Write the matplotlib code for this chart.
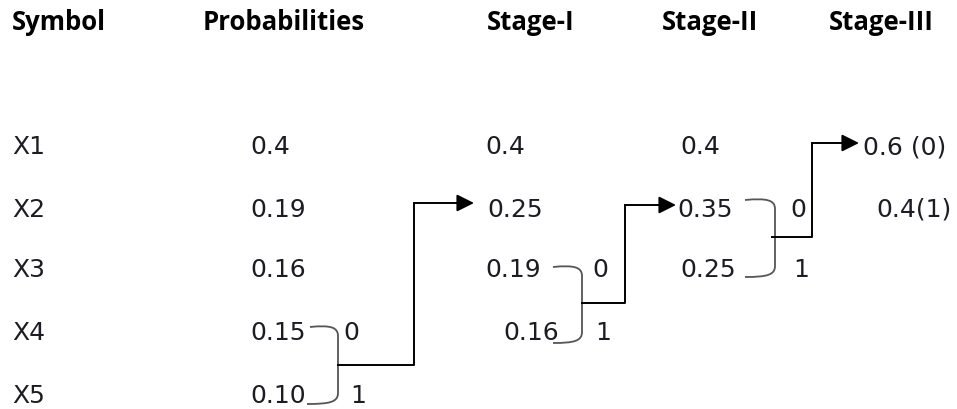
import matplotlib.pyplot as plt
from matplotlib.path import Path
from matplotlib.patches import PathPatch

# Huffman reduction table
headers = ["Symbol", "Probabilities", "Stage-I", "Stage-II", "Stage-III"]
symbols = ["X1", "X2", "X3", "X4", "X5"]
probabilities = ["0.4", "0.19", "0.16", "0.15", "0.10"]
stage1 = ["0.4", "0.25", "0.19", "0.16"]
stage2 = ["0.4", "0.35", "0.25"]
stage3 = ["0.6 (0)", "0.4(1)"]

header_x = [12, 203, 487, 662, 829]
row_y = [147, 210, 270, 333, 396]

fig = plt.figure(figsize=(9.57, 4.09), dpi=100)
ax = fig.add_axes([0, 0, 1, 1])
ax.set_xlim(0, 957)
ax.set_ylim(409, 0)
ax.axis("off")

body = dict(fontsize=18, family="DejaVu Sans", color="#1c1c24", ha="left", va="center")

for x, h in zip(header_x, headers):
    ax.text(x, 22, h, fontsize=18.5, fontweight="bold", family="Open Sans",
            ha="left", va="center")

for y, s in zip(row_y, symbols):
    ax.text(12, y, s, **body)
for y, p in zip(row_y, probabilities):
    ax.text(250, y, p, **body)

s1_x = [485, 487, 485, 503]
for x, y, v in zip(s1_x, row_y, stage1):
    ax.text(x, y, v, **body)

s2_x = [680, 677, 680]
for x, y, v in zip(s2_x, row_y, stage2):
    ax.text(x, y, v, **body)

s3_x = [863, 876]
for x, y, v in zip(s3_x, row_y, stage3):
    ax.text(x, y, v, **body)


def bracket(x0, ytop, ybot, xv, x_end1):
    # curved brace joining two values
    verts = [(x0, ytop), (xv - 8, ytop - 2), (xv, ytop), (xv, ytop + 9),
             (xv, ybot - 9),
             (xv, ybot), (xv - 8, ybot + 2), (x_end1, ybot + 2)]
    codes = [Path.MOVETO, Path.CURVE4, Path.CURVE4, Path.CURVE4,
             Path.LINETO,
             Path.CURVE4, Path.CURVE4, Path.CURVE4]
    ax.add_patch(PathPatch(Path(verts, codes), fill=False, lw=1.3, color="#555555"))


def step_arrow(x0, y0, xv, ytop, xtip):
    ax.plot([x0, xv, xv], [y0, y0, ytop], color="black", lw=1.4)
    ax.annotate("", xy=(xtip, ytop), xytext=(xv, ytop),
                arrowprops=dict(arrowstyle="-|>", color="black", lw=1.4,
                                mutation_scale=26, shrinkA=0, shrinkB=0))


# Probabilities -> Stage-I
bracket(310, 327, 402, 338, 307)
step_arrow(338, 365, 414, 203, 474)
ax.text(343, 333, "0", **body)
ax.text(350, 396, "1", **body)

# Stage-I -> Stage-II
bracket(553, 267, 341, 582, 553)
step_arrow(582, 303, 625, 205, 676)
ax.text(592, 270, "0", **body)
ax.text(595, 333, "1", **body)

# Stage-II -> Stage-III
bracket(745, 200, 275, 775, 745)
step_arrow(772, 237, 812, 143, 859)
ax.text(790, 210, "0", **body)
ax.text(793, 270, "1", **body)

fig.savefig("out.png", dpi=100, facecolor="white")
